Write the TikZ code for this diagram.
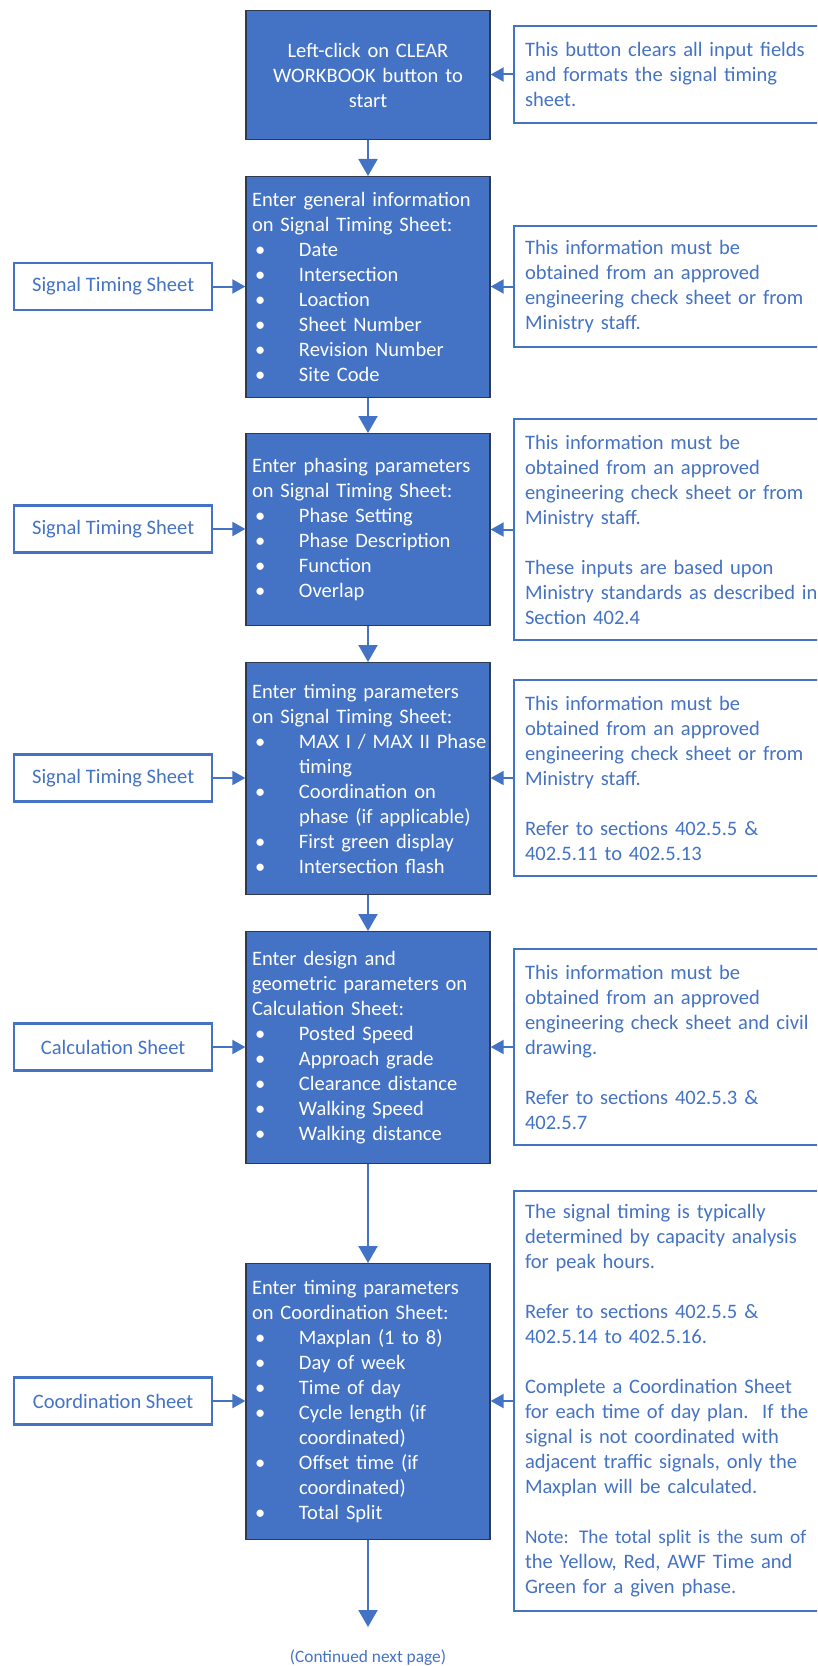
\documentclass[tikz,border=0pt]{standalone}
\usepackage{fontspec}
\setmainfont{Carlito}
\usetikzlibrary{arrows.meta}

\definecolor{azul}{HTML}{4472C4}
\definecolor{borde}{HTML}{2E3A50}

\newcommand{\itm}[1]{\makebox[35.25pt][l]{\hspace{2.25pt}\textbullet}\mbox{#1}}
\newcommand{\cnt}[1]{\hspace*{35.25pt}#1}
\newcommand{\gap}{\\[18.75pt]}

\tikzset{
  paso/.style={fill=azul, draw=borde, line width=0.975pt, text=white, anchor=north,
    text width=174pt, inner sep=4.5pt, align=left,
    font=\fontsize{15.4}{18.75}\selectfont},
  nota/.style={draw=azul, line width=1.5pt, text=azul, anchor=west,
    text width=250pt, inner xsep=8.25pt, align=left,
    font=\fontsize{15.4}{18.75}\selectfont},
  hoja/.style={draw=azul, line width=1.725pt, text=azul, anchor=west,
    minimum width=148.5pt, minimum height=35.25pt, inner sep=0pt,
    font=\fontsize{15.4}{18.75}\selectfont},
  flecha/.style={draw=azul, line width=1.5pt, -{Triangle[width=14.25pt,length=12.75pt]}},
  flechah/.style={draw=azul, line width=1.5pt, -{Triangle[width=10.5pt,length=9.75pt]}}
}

\begin{document}
\begin{tikzpicture}[x=0.75pt,y=-0.75pt]

% Marco
\useasboundingbox (0,0) rectangle (817,1666);
\clip (0,0) rectangle (817,1666);

% Pasos principales
\node[paso, align=center, minimum height=96.75pt] (p1) at (368,10)
  {Left-click on CLEAR\\ WORKBOOK button to\\ start};
\node[paso, minimum height=165.75pt] (p2) at (368,176)
  {Enter general information\\ on Signal Timing Sheet:\\
   \itm{Date}\\ \itm{Intersection}\\ \itm{Loaction}\\
   \itm{Sheet Number}\\ \itm{Revision Number}\\ \itm{Site Code}};
\node[paso, minimum height=144pt] (p3) at (368,433)
  {Enter phasing parameters\\ on Signal Timing Sheet:\\
   \itm{Phase Setting}\\ \itm{Phase Description}\\ \itm{Function}\\ \itm{Overlap}};
\node[paso, minimum height=174pt] (p4) at (368,662)
  {Enter timing parameters\\ on Signal Timing Sheet:\\
   \itm{MAX I / MAX II Phase}\\ \cnt{timing}\\ \itm{Coordination on}\\
   \cnt{phase (if applicable)}\\ \itm{First green display}\\ \itm{Intersection flash}};
\node[paso, minimum height=174pt] (p5) at (368,931)
  {Enter design and\\ geometric parameters on\\ Calculation Sheet:\\
   \itm{Posted Speed}\\ \itm{Approach grade}\\ \itm{Clearance distance}\\
   \itm{Walking Speed}\\ \itm{Walking distance}};
\node[paso, minimum height=207pt] (p6) at (368,1263)
  {Enter timing parameters\\ on Coordination Sheet:\\
   \itm{Maxplan (1 to 8)}\\ \itm{Day of week}\\ \itm{Time of day}\\
   \itm{Cycle length (if}\\ \cnt{coordinated)}\\ \itm{Offset time (if}\\
   \cnt{coordinated)}\\ \itm{Total Split}};

% Hojas de origen
\node[hoja] (h2) at (13,286.5) {Signal Timing Sheet};
\node[hoja] (h3) at (13,529) {Signal Timing Sheet};
\node[hoja] (h4) at (13,778) {Signal Timing Sheet};
\node[hoja] (h5) at (13,1047) {Calculation Sheet};
\node[hoja] (h6) at (13,1401) {Coordination Sheet};

% Notas
\node[nota, minimum height=72.75pt] (n1) at (513,74.5)
  {This button clears all input fields\\ and formats the signal timing\\ sheet.};
\node[nota, minimum height=90.75pt] (n2) at (513,286.5)
  {This information must be\\ obtained from an approved\\
   engineering check sheet or from\\ Ministry staff.};
\node[nota, minimum height=165.75pt] (n3) at (513,529.5)
  {This information must be\\ obtained from an approved\\
   engineering check sheet or from\\ Ministry staff.\gap
   These inputs are based upon\\ Ministry standards as described in\\ Section 402.4};
\node[nota, minimum height=147pt] (n4) at (513,778)
  {This information must be\\ obtained from an approved\\
   engineering check sheet or from\\ Ministry staff.\gap
   Refer to sections 402.5.5 \&\\ 402.5.11 to 402.5.13};
\node[nota, minimum height=147pt] (n5) at (513,1047)
  {This information must be\\ obtained from an approved\\
   engineering check sheet and civil\\ drawing.\gap
   Refer to sections 402.5.3 \&\\ 402.5.7};
\node[nota, minimum height=315pt] (n6) at (513,1401)
  {The signal timing is typically\\ determined by capacity analysis\\ for peak hours.\gap
   Refer to sections 402.5.5 \&\\ 402.5.14 to 402.5.16.\gap
   Complete a Coordination Sheet\\ for each time of day plan.\ \ If the\\
   signal is not coordinated with\\ adjacent traffic signals, only the\\
   Maxplan will be calculated.\gap
   {\fontsize{14.5}{18.75}\selectfont Note: The total split is the sum of}\\
   the Yellow, Red, AWF Time and\\ Green for a given phase.};

% Final de pagina
\coordinate (fin) at (368,1627);
\node[text=azul, font=\fontsize{13}{15}\selectfont] (sigue) at (368,1658)
  {(Continued next page)};

% Flechas
\foreach \a/\b in {p1/p2, p2/p3, p3/p4, p4/p5, p5/p6}
  \draw[flecha] (\a.south) -- (\b.north);
\draw[flecha] (p6.south) -- (fin);
\foreach \i in {2,...,6}
  \draw[flechah] (h\i.east) -- (p\i.west |- h\i.east);
\foreach \i in {1,...,6}
  \draw[flechah] (n\i.west) -- (p\i.east |- n\i.west);

\end{tikzpicture}
\end{document}
